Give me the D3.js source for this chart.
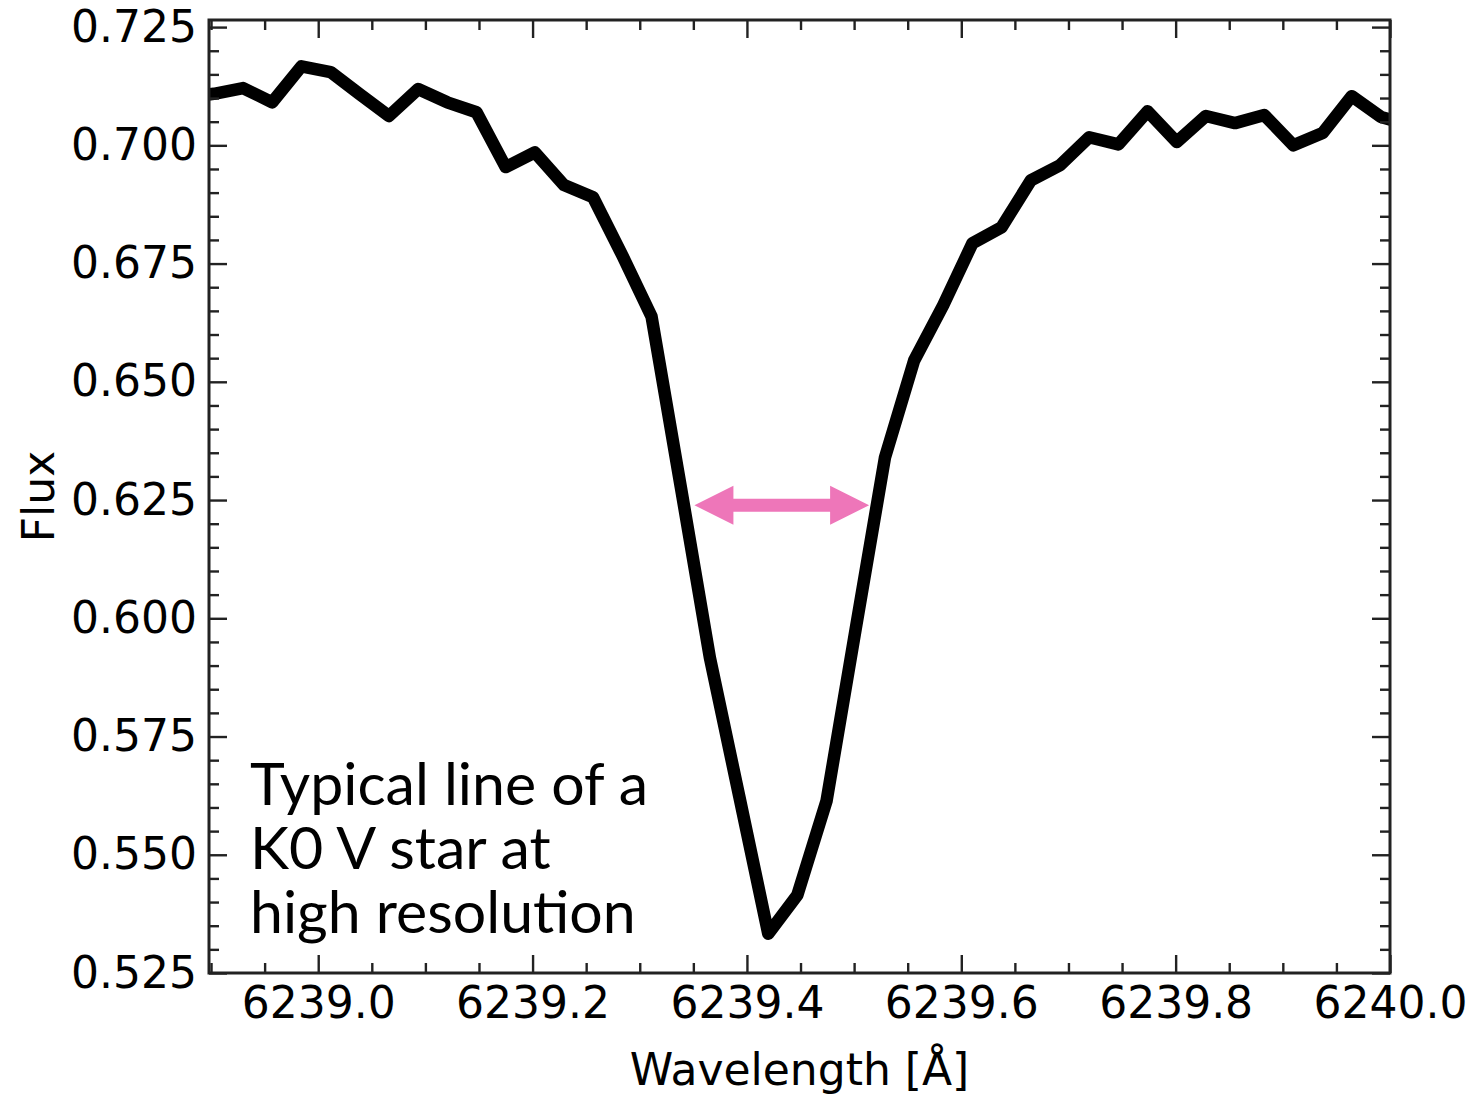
<!DOCTYPE html>
<html>
<head>
<meta charset="utf-8">
<script src="https://cdn.jsdelivr.net/npm/d3@7"></script>
<style>
  html, body { margin: 0; padding: 0; background: #fff; }
  svg { display: block; }
</style>
</head>
<body>
<svg id="chart" width="1476" height="1096"></svg>
<script>
// ---- data ----
const wavelength = [
  6238.8755, 6238.9027, 6238.9299, 6238.9571, 6238.9843, 6239.0116, 6239.0388,
  6239.0660, 6239.0932, 6239.1204, 6239.1477, 6239.1749, 6239.2021, 6239.2293,
  6239.2565, 6239.2838, 6239.3110, 6239.3382, 6239.3654, 6239.3927, 6239.4199,
  6239.4471, 6239.4743, 6239.5015, 6239.5288, 6239.5560, 6239.5832, 6239.6104,
  6239.6377, 6239.6649, 6239.6921, 6239.7193, 6239.7466, 6239.7738, 6239.8010,
  6239.8282, 6239.8554, 6239.8827, 6239.9099, 6239.9371, 6239.9643, 6239.9915,
  6240.0188
];
const flux = [
  0.7102, 0.7109, 0.7121, 0.7091, 0.7167, 0.7155, 0.7108,
  0.7062, 0.7119, 0.7091, 0.7070, 0.6954, 0.6985, 0.6916,
  0.6890, 0.6767, 0.6638, 0.6279, 0.5917, 0.5625, 0.5333,
  0.5415, 0.5614, 0.5978, 0.6340, 0.6545, 0.6662, 0.6793,
  0.6827, 0.6926, 0.6958, 0.7017, 0.7002, 0.7072, 0.7007,
  0.7062, 0.7047, 0.7064, 0.7000, 0.7026, 0.7104, 0.7060,
  0.7043
];
const xMajorTicks = [6239.0, 6239.2, 6239.4, 6239.6, 6239.8, 6240.0];
const xTickLabels = ["6239.0", "6239.2", "6239.4", "6239.6", "6239.8", "6240.0"];
const yMajorTicks = [0.525, 0.550, 0.575, 0.600, 0.625, 0.650, 0.675, 0.700, 0.725];
const yTickLabels = ["0.525", "0.550", "0.575", "0.600", "0.625", "0.650", "0.675", "0.700", "0.725"];
const xDomain = [6238.8981, 6240.0];
const yDomain = [0.525, 0.7265];
const fwhmArrow = { x0: 6239.351, x1: 6239.514, y: 0.6239 };
const annotationLines = ["Typical line of a", "K0 V star at", "high resolution"];
const xLabel = "Wavelength [Å]";
const yLabel = "Flux";

// ---- layout ----
const L = 209, R = 1390, T = 20, B = 973;
const svg = d3.select("#chart");
const x = d3.scaleLinear().domain(xDomain).range([L, R]);
const y = d3.scaleLinear().domain(yDomain).range([B, T]);

const xMinor = d3.range(6238.90, 6240.001, 0.05).filter(v => !xMajorTicks.some(m => Math.abs(m - v) < 1e-6));
const yMinor = d3.range(0.525, 0.7266, 0.005).filter(v => !yMajorTicks.some(m => Math.abs(m - v) < 1e-6));

svg.append("defs").append("clipPath").attr("id", "clip")
  .append("rect").attr("x", L).attr("y", T).attr("width", R - L).attr("height", B - T);

// line
const line = d3.line().x((d, i) => x(wavelength[i])).y(d => y(d));
svg.append("path")
  .attr("clip-path", "url(#clip)")
  .attr("d", line(flux))
  .attr("fill", "none")
  .attr("stroke", "#000")
  .attr("stroke-width", 12.5)
  .attr("stroke-linejoin", "round")
  .attr("stroke-linecap", "butt");

// FWHM arrow
const ax0 = x(fwhmArrow.x0), ax1 = x(fwhmArrow.x1), ay = y(fwhmArrow.y);
const headL = 39, headH = 19.5, shaftH = 6.5;
const arrowPath = [
  [ax0, ay], [ax0 + headL, ay - headH], [ax0 + headL, ay - shaftH],
  [ax1 - headL, ay - shaftH], [ax1 - headL, ay - headH], [ax1, ay],
  [ax1 - headL, ay + headH], [ax1 - headL, ay + shaftH],
  [ax0 + headL, ay + shaftH], [ax0 + headL, ay + headH]
];
svg.append("path")
  .attr("d", d3.line()(arrowPath) + "Z")
  .attr("fill", "#ee76b9");

// axes with inward ticks
const tickColor = "#222";
function styleAxis(g) {
  g.select(".domain").remove();
  g.selectAll(".tick line").attr("stroke", tickColor).attr("stroke-width", 2.4);
}
const fontTick = "DejaVu Sans";

svg.append("g").attr("transform", `translate(0,${B})`)
  .call(d3.axisBottom(x).tickValues(xMajorTicks).tickSize(-18).tickPadding(14)
    .tickFormat((d, i) => xTickLabels[i]))
  .call(styleAxis)
  .call(g => g.selectAll("text").attr("font-family", fontTick).attr("font-size", 44).attr("fill", "#000"));
svg.append("g").attr("transform", `translate(0,${B})`)
  .call(d3.axisBottom(x).tickValues(xMinor).tickSize(-10).tickFormat(""))
  .call(styleAxis);
svg.append("g").attr("transform", `translate(0,${T})`)
  .call(d3.axisTop(x).tickValues(xMajorTicks).tickSize(-18).tickFormat(""))
  .call(styleAxis);
svg.append("g").attr("transform", `translate(0,${T})`)
  .call(d3.axisTop(x).tickValues(xMinor).tickSize(-10).tickFormat(""))
  .call(styleAxis);

svg.append("g").attr("transform", `translate(${L},0)`)
  .call(d3.axisLeft(y).tickValues(yMajorTicks).tickSize(-18).tickPadding(12)
    .tickFormat((d, i) => yTickLabels[i]))
  .call(styleAxis)
  .call(g => g.selectAll("text").attr("font-family", fontTick).attr("font-size", 44).attr("fill", "#000"));
svg.append("g").attr("transform", `translate(${L},0)`)
  .call(d3.axisLeft(y).tickValues(yMinor).tickSize(-10).tickFormat(""))
  .call(styleAxis);
svg.append("g").attr("transform", `translate(${R},0)`)
  .call(d3.axisRight(y).tickValues(yMajorTicks).tickSize(-18).tickFormat(""))
  .call(styleAxis);
svg.append("g").attr("transform", `translate(${R},0)`)
  .call(d3.axisRight(y).tickValues(yMinor).tickSize(-10).tickFormat(""))
  .call(styleAxis);

// frame
svg.append("rect")
  .attr("x", L).attr("y", T).attr("width", R - L).attr("height", B - T)
  .attr("fill", "none").attr("stroke", tickColor).attr("stroke-width", 3);

// axis labels
svg.append("text")
  .attr("x", (L + R) / 2).attr("y", 1085)
  .attr("text-anchor", "middle")
  .attr("font-family", fontTick).attr("font-size", 44).attr("fill", "#000")
  .text(xLabel);
svg.append("text")
  .attr("transform", `translate(54,${(T + B) / 2}) rotate(-90)`)
  .attr("text-anchor", "middle")
  .attr("font-family", fontTick).attr("font-size", 44).attr("fill", "#000")
  .text(yLabel);

// annotation
const ann = svg.append("text")
  .attr("font-family", "Lato").attr("font-size", 59).attr("fill", "#000");
annotationLines.forEach((s, i) => {
  ann.append("tspan").attr("x", 250).attr("y", 805 + i * 64).text(s);
});
</script>
</body>
</html>
